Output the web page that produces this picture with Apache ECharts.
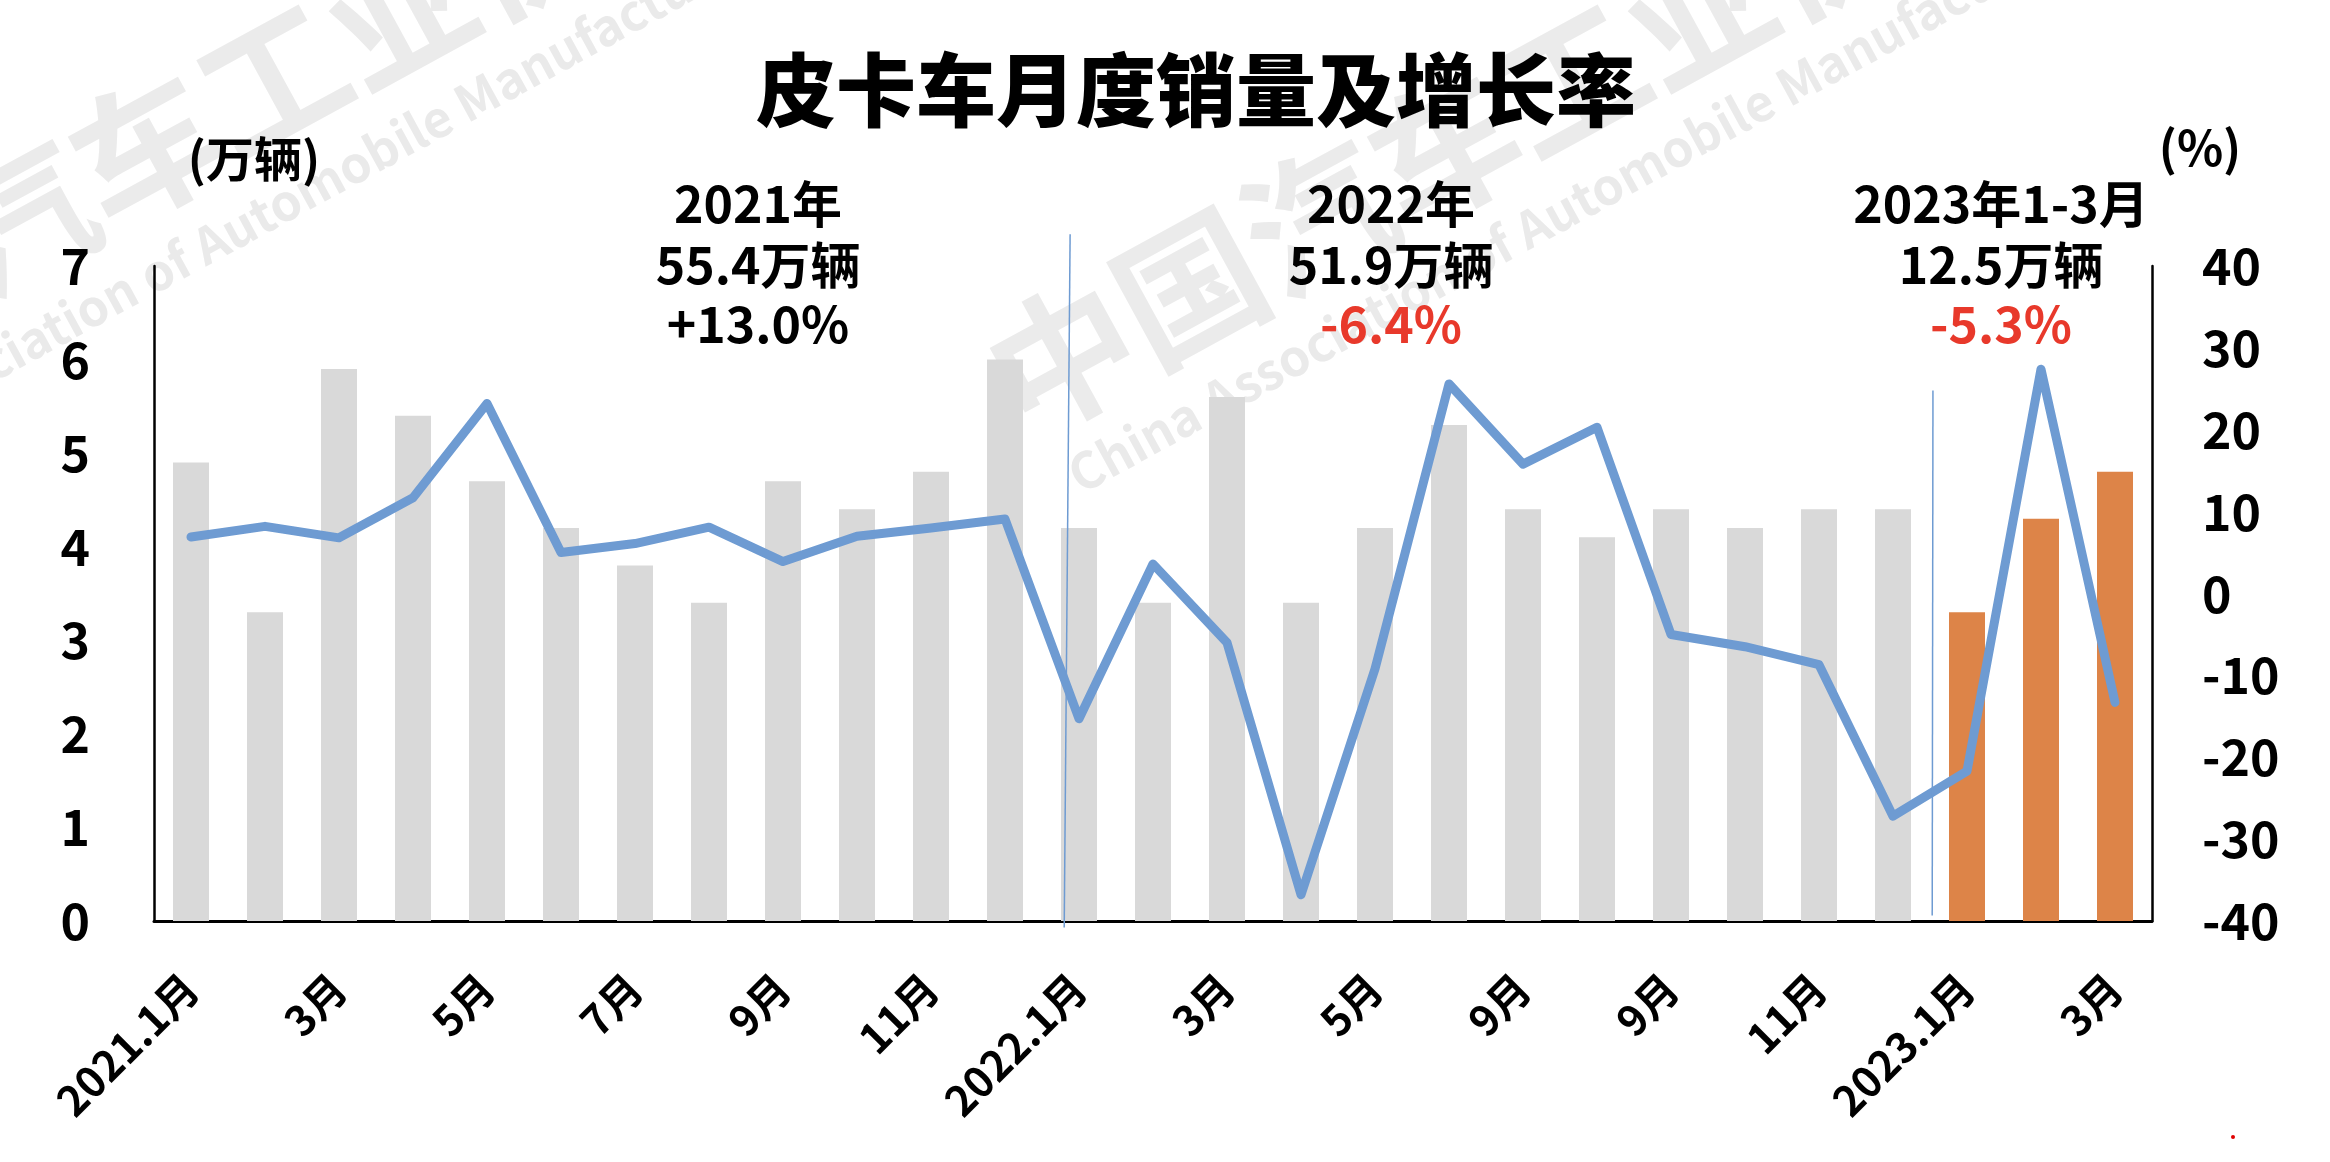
<!DOCTYPE html>
<html>
<head>
<meta charset="utf-8">
<script src="https://cdn.jsdelivr.net/npm/echarts@6/dist/echarts.min.js"></script>
<style>
html,body{margin:0;padding:0;background:#fff;}
#chart{width:2330px;height:1162px;}
</style>
</head>
<body>
<div id="chart"></div>
<script>
// ---- data ----
const categories = ['2021.1月','2月','3月','4月','5月','6月','7月','8月','9月','10月','11月','12月',
  '2022.1月','2月','3月','4月','5月','6月','9月','8月','9月','10月','11月','12月',
  '2023.1月','2月','3月'];
const salesVolume = [4.9,3.3,5.9,5.4,4.7,4.2,3.8,3.4,4.7,4.4,4.8,6.0,
  4.2,3.4,5.6,3.4,4.2,5.3,4.4,4.1,4.4,4.2,4.4,4.4,
  3.3,4.3,4.8];
const growthRate = [6.9,8.2,6.8,11.7,23.2,5.0,6.1,8.1,3.9,7.0,8.0,9.1,
  -15.3,3.6,-6.0,-36.8,-9.2,25.6,15.8,20.3,-5.0,-6.5,-8.7,-27.2,
  -21.7,27.4,-13.3];
const highlightFrom = 24; // 2023 months drawn in orange
const leftTicks = {min:0, max:7, interval:1};
const rightTicks = {min:-40, max:40, interval:10};
const title = '皮卡车月度销量及增长率';
const leftUnit = '(万辆)';
const rightUnit = '(%)';
const yearNotes = [
  {year:'2021年', total:'55.4万辆', rate:'+13.0%', neg:false},
  {year:'2022年', total:'51.9万辆', rate:'-6.4%', neg:true},
  {year:'2023年1-3月', total:'12.5万辆', rate:'-5.3%', neg:true}
];

const FONT = '"Noto Sans CJK SC","Noto Sans",sans-serif';
const GRAY = '#d9d9d9', ORANGE = '#dd8448', BLUE = '#6e9bd2', RED = '#e8392b';

const chart = echarts.init(document.getElementById('chart'), null, {renderer:'canvas'});

const baseOption = {
  backgroundColor:'#ffffff',
  animation:false,
  grid:{left:154, right:178, top:266, bottom:241, containLabel:false},
  xAxis:{
    type:'category', data:categories, boundaryGap:true,
    axisLine:{show:true, lineStyle:{color:'#000', width:3}},
    axisTick:{show:false},
    axisLabel:{interval:1, rotate:45, margin:60, color:'#000', fontSize:42, fontWeight:'bold', fontFamily:FONT},
    splitLine:{show:false}
  },
  yAxis:[
    {type:'value', position:'left', min:leftTicks.min, max:leftTicks.max, interval:leftTicks.interval,
     axisLine:{show:true, lineStyle:{color:'#000', width:2.5}}, axisTick:{show:false}, splitLine:{show:false},
     axisLabel:{margin:64, color:'#000', fontSize:50, fontWeight:'bold', fontFamily:FONT}},
    {type:'value', position:'right', min:rightTicks.min, max:rightTicks.max, interval:rightTicks.interval,
     axisLine:{show:true, lineStyle:{color:'#000', width:2.5}}, axisTick:{show:false}, splitLine:{show:false},
     axisLabel:{margin:50, color:'#000', fontSize:50, fontWeight:'bold', fontFamily:FONT}}
  ],
  series:[
    {type:'bar', yAxisIndex:0, barWidth:36, z:2,
     data: salesVolume.map((v,i)=>({value:v, itemStyle:{color: i>=highlightFrom ? ORANGE : GRAY}}))},
    {type:'line', yAxisIndex:1, data:growthRate, symbol:'none', smooth:false, z:5,
     lineStyle:{color:BLUE, width:9, cap:'round', join:'round'}}
  ]
};
chart.setOption(baseOption);

function xAt(pos){ // fractional category position -> pixel
  const i = Math.floor(pos), f = pos - i;
  const a = chart.convertToPixel({xAxisIndex:0}, i);
  const b = chart.convertToPixel({xAxisIndex:0}, i+1);
  return a + (b-a)*f;
}
function yAt(v){ return chart.convertToPixel({yAxisIndex:0}, v); }

const graphics = [];
// faint watermark
const wmAngle = 0.5;
[[-300,392],[999,392]].forEach(p=>{
  graphics.push({type:'text', x:p[0], y:p[1], rotation:wmAngle, z:0, silent:true,
    style:{text:'中国汽车工业协会', fill:'#ebebeb', font:'bold 145px '+FONT, textAlign:'left', textVerticalAlign:'middle'}});
});
[[-250,494],[1072,478]].forEach(p=>{
  graphics.push({type:'text', x:p[0], y:p[1], rotation:wmAngle, z:0, silent:true,
    style:{text:'China Association of Automobile Manufacturers', fill:'#eaeaea', font:'bold 50px '+FONT, textAlign:'left', textVerticalAlign:'middle'}});
});
// title and unit labels
graphics.push({type:'text', x:1196, y:90, z:100, style:{text:title, fill:'#000', font:'900 80px '+FONT, textAlign:'center', textVerticalAlign:'middle'}});
graphics.push({type:'text', x:254, y:159, z:100, style:{text:leftUnit, fill:'#000', font:'bold 48px '+FONT, textAlign:'center', textVerticalAlign:'middle'}});
graphics.push({type:'text', x:2200, y:148, z:100, style:{text:rightUnit, fill:'#000', font:'bold 48px '+FONT, textAlign:'center', textVerticalAlign:'middle'}});
// year notes
const noteX = [758, 1391, 2001];
yearNotes.forEach((n,k)=>{
  graphics.push({type:'text', x:noteX[k], y:204, z:100, style:{text:n.year, fill:'#000', font:'bold 50px '+FONT, textAlign:'center', textVerticalAlign:'middle'}});
  graphics.push({type:'text', x:noteX[k], y:265, z:100, style:{text:n.total, fill:'#000', font:'bold 50px '+FONT, textAlign:'center', textVerticalAlign:'middle'}});
  graphics.push({type:'text', x:noteX[k], y:324, z:100, style:{text:n.rate, fill:n.neg?RED:'#000', font:'bold 50px '+FONT, textAlign:'center', textVerticalAlign:'middle'}});
});
// year separators
graphics.push({type:'line', z:100, silent:true,
  shape:{x1:xAt(11.88), y1:yAt(7.34), x2:xAt(11.80), y2:yAt(-0.07)},
  style:{stroke:BLUE, lineWidth:1.5}});
graphics.push({type:'line', z:100, silent:true,
  shape:{x1:xAt(23.54), y1:yAt(5.67), x2:xAt(23.53), y2:yAt(0.06)},
  style:{stroke:BLUE, lineWidth:1.5}});
// small red dot at bottom right
graphics.push({type:'circle', z:100, silent:true, shape:{cx:2233, cy:1137, r:2}, style:{fill:'#e00000'}});

chart.setOption({graphic:graphics});
</script>
</body>
</html>
